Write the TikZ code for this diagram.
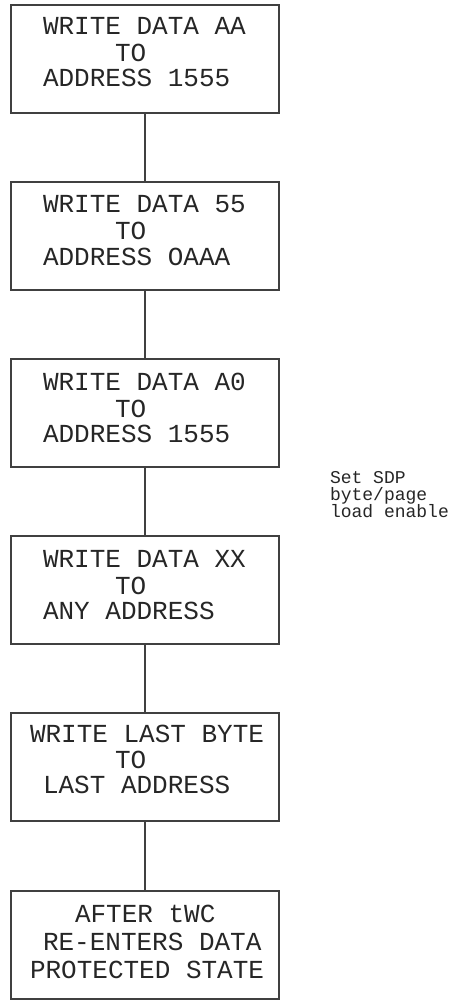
\documentclass[tikz,border=0pt]{standalone}
\usepackage{fontspec}
\setmonofont{Liberation Mono}
\begin{document}
\begin{tikzpicture}[x=1pt,y=-1pt,
  box/.style={draw=black!75, line width=1.2pt, minimum width=268pt, minimum height=108pt, inner sep=0pt, outer sep=0pt},
  lbl/.style={anchor=base west, inner sep=0pt, outer sep=0pt, font=\ttfamily\fontsize{26}{26}\selectfont, text=black!85},
  note/.style={anchor=base west, inner sep=0pt, outer sep=0pt, font=\ttfamily\fontsize{18}{18}\selectfont, text=black!85},
  link/.style={draw=black!75, line width=1.2pt}]
\useasboundingbox (0,0) rectangle (459,1000);
% boxes
\node[box] (b1) at (145,59) {};
\node[box] (b2) at (145,236) {};
\node[box] (b3) at (145,413) {};
\node[box] (b4) at (145,590) {};
\node[box] (b5) at (145,767) {};
\node[box] (b6) at (145,945) {};
% connectors
\draw[link] (b1.south) -- (b2.north);
\draw[link] (b2.south) -- (b3.north);
\draw[link] (b3.south) -- (b4.north);
\draw[link] (b4.south) -- (b5.north);
\draw[link] (b5.south) -- (b6.north);
% box texts
\node[lbl] (t1a) at (43,35) {WRITE DATA AA};
\node[lbl] (t1b) at (115,62) {TO};
\node[lbl] (t1c) at (43,87) {ADDRESS 1555};
\node[lbl] (t2a) at (43,213) {WRITE DATA 55};
\node[lbl] (t2b) at (115,240) {TO};
\node[lbl] (t2c) at (43,265) {ADDRESS OAAA};
\node[lbl] (t3a) at (43,390) {WRITE DATA A0};
\node[lbl] (t3b) at (115,417) {TO};
\node[lbl] (t3c) at (43,442) {ADDRESS 1555};
\node[lbl] (t4a) at (43,567) {WRITE DATA XX};
\node[lbl] (t4b) at (115,594) {TO};
\node[lbl] (t4c) at (43,619) {ANY ADDRESS};
\node[lbl] (t5a) at (30,742) {WRITE LAST BYTE};
\node[lbl] (t5b) at (115,768) {TO};
\node[lbl] (t5c) at (43,793) {LAST ADDRESS};
\node[lbl] (t6a) at (75,922) {AFTER tWC};
\node[lbl] (t6b) at (43,950) {RE-ENTERS DATA};
\node[lbl] (t6c) at (30,978) {PROTECTED STATE};
% side note
\node[note] (n1) at (330,483) {Set SDP};
\node[note] (n2) at (330,500) {byte/page};
\node[note] (n3) at (330,517) {load enable};
\end{tikzpicture}
\end{document}
